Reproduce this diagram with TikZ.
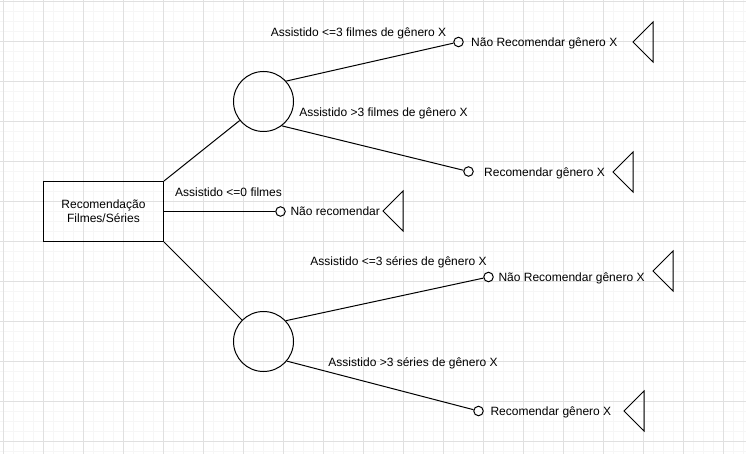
\documentclass[tikz,border=0pt]{standalone}
\usepackage{fontspec}
\setmainfont{Liberation Sans}
\usepackage{xcolor}
\usetikzlibrary{calc}
\definecolor{gridmajor}{RGB}{224,224,224}
\definecolor{gridminor}{RGB}{246,246,246}

\begin{document}
\begin{tikzpicture}[x=1pt, y=-1pt, line width=1pt,
  every node/.style={font=\fontsize{12}{14}\selectfont},
  box/.style={draw, minimum width=120pt, minimum height=60pt, align=center, inner sep=0},
  chance/.style={draw, circle, minimum size=60pt, inner sep=0},
  endpt/.style={draw, circle, minimum size=9.5pt, inner sep=0},
  lbl/.style={inner sep=0, text height=8.5pt, text depth=0pt},
  res/.style={lbl, anchor=west}]
\fill[white] (0,0) rectangle (746,454);
\useasboundingbox (0,0) rectangle (746,454);
\foreach \x in {13.5,23.5,...,743.5} \draw[gridminor] (\x,0) -- (\x,454);
\foreach \y in {11.5,21.5,...,451.5} \draw[gridminor] (0,\y) -- (746,\y);
\foreach \x in {3.5,43.5,...,723.5} \draw[gridmajor] (\x,0) -- (\x,454);
\foreach \y in {1.5,41.5,...,441.5} \draw[gridmajor] (0,\y) -- (746,\y);

\node[box] (root) at (103.5,211.5) {Recomendação\\Filmes/Séries};
\node[chance] (filmes) at (263.5,101.5) {};
\node[chance] (series) at (263.5,341.5) {};

\node[endpt] (f1) at (458.5,42) {};
\node[endpt] (f2) at (468.5,171.5) {};
\node[endpt] (n0) at (280.5,211.5) {};
\node[endpt] (s1) at (488.5,277) {};
\node[endpt] (s2) at (478.5,411) {};

\draw (root.north east) -- (filmes);
\draw (root.east) -- (n0);
\draw (root.south east) -- (series);
\draw (filmes.42) -- (f1);
\draw (filmes.-53) -- (f2);
\draw (series.43) -- (s1);
\draw (series.-40) -- (s2);

\node[lbl] (lf1) at (358.5,32) {Assistido <=3 filmes de gênero X};
\node[lbl] (lf2) at (383.5,112) {Assistido >3 filmes de gênero X};
\node[lbl] (ln0) at (228.5,192) {Assistido <=0 filmes};
\node[lbl] (ls1) at (398.5,261) {Assistido <=3 séries de gênero X};
\node[lbl] (ls2) at (413,362) {Assistido >3 séries de gênero X};

\node[res] (rf1) at (470.7,42) {Não Recomendar gênero X};
\node[res] (rf2) at (483.7,172) {Recomendar gênero X};
\node[res] (rn0) at (290,211) {Não recomendar};
\node[res] (rs1) at (498,277) {Não Recomendar gênero X};
\node[res] (rs2) at (490,411) {Recomendar gênero X};

\foreach \x/\y in {633/42,613/172,383/211,653/271,624/411}
  \draw (\x,\y) -- ++(20,-20) -- ++(0,40) -- cycle;
\end{tikzpicture}
\end{document}
